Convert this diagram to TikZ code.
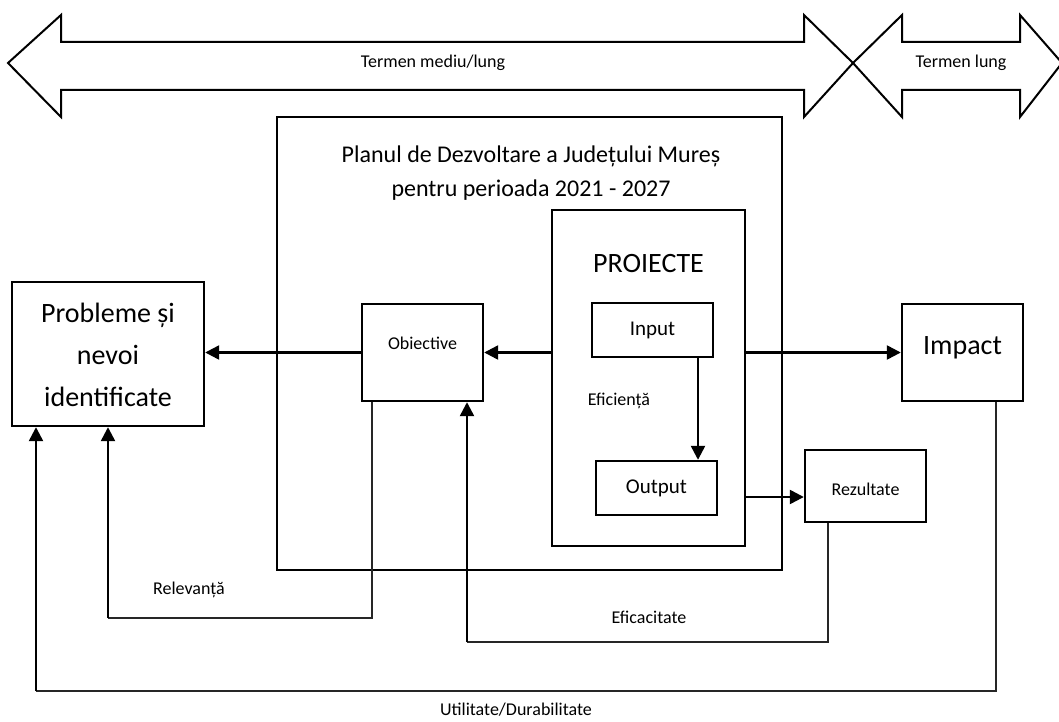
\documentclass[tikz,border=0pt]{standalone}
\usepackage{fontspec}
\setmainfont{Carlito}
\usetikzlibrary{arrows.meta}
\begin{document}
\begin{tikzpicture}[x=1pt,y=-1pt,
  box/.style={draw, line width=2.4pt, inner sep=0pt},
  thinl/.style={line width=1.1pt, draw=black!85},
  arr/.style={line width=2.4pt, -{Triangle[length=14pt,width=14pt]}},
  fs/.style={font=\fontsize{18}{22}\selectfont},
  fm/.style={font=\fontsize{21}{25}\selectfont},
  fp/.style={font=\fontsize{24}{34}\selectfont, align=center},
  fl/.style={font=\fontsize{28}{42}\selectfont, align=center},
  band/.style={draw, line width=2pt, line join=miter}]
\useasboundingbox (0,0) rectangle (1059,722);

% top double arrows
\draw[band] (8,63) -- (61,15) -- (61,42) -- (804,42) -- (804,15) -- (853,63)
  -- (804,117) -- (804,90) -- (61,90) -- (61,117) -- cycle;
\draw[band] (853,63) -- (902,15) -- (902,42) -- (1020,42) -- (1020,15) -- (1062,63)
  -- (1020,117) -- (1020,90) -- (902,90) -- (902,117) -- cycle;
\node[fs] (tml) at (433,63) {Termen mediu/lung};
\node[fs] (tl) at (961,63) {Termen lung};

% plan box
\node[box, minimum width=505pt, minimum height=453pt] (plan) at (529.5,343.5) {};
\node[fp] (plantxt) at (531,173) {Planul de Dezvoltare a Județului Mureș\\pentru perioada 2021 - 2027};

% projects box
\node[box, minimum width=193pt, minimum height=336pt] (proj) at (648.5,378) {};
\node[fl] (projtxt) at (648.5,264) {PROIECTE};
\node[box, fm, minimum width=121pt, minimum height=54pt] (input) at (652.5,330) {Input};
\node[box, fm, minimum width=121pt, minimum height=54pt] (output) at (656.5,488) {Output};
\node[fs] (efic) at (619,401) {Eficiență};

% other boxes
\node[box, minimum width=192pt, minimum height=144pt] (probl) at (108,354) {};
\node[fl] (probltxt) at (108,355) {Probleme și\\nevoi\\identificate};
\node[box, minimum width=121pt, minimum height=97pt] (obj) at (422.5,352.5) {};
\node[fs] (objtxt) at (422.5,343) {Obiective};
\node[box, minimum width=121pt, minimum height=97pt] (impact) at (962.5,352.5) {};
\node[fl] (impacttxt) at (962.5,348) {Impact};
\node[box, minimum width=121pt, minimum height=72pt] (rez) at (865.5,486) {};
\node[fs] (reztxt) at (865.5,489) {Rezultate};

% main arrows
\draw[arr] (proj.west |- obj.east) -- (obj.east);
\draw[arr] (obj.west) -- (obj.west -| probl.east);
\draw[arr] (proj.east |- impact.west) -- (impact.west);
\draw[arr] ([xshift=45.5pt]input.south) -- ([xshift=45.5pt]input.south |- output.north);
\draw[arr] ([yshift=-11pt]rez.west -| proj.east) -- ([yshift=-11pt]rez.west);

% feedback loops
\coordinate (c1) at (108,618);
\coordinate (c2) at (467,642);
\coordinate (c3) at (36,691);
\draw[thinl] ([xshift=-50.5pt]obj.south) |- (c1);
\draw[arr] (c1) -- (probl.south);
\draw[thinl] ([xshift=-37.5pt]rez.south) |- (c2);
\draw[arr] (c2) -- ([xshift=44.5pt]obj.south);
\draw[thinl] ([xshift=33.5pt]impact.south) |- (c3);
\draw[arr] (c3) -- ([xshift=-72pt]probl.south);

\node[fs] (relev) at (189,590) {Relevanță};
\node[fs] (eficac) at (649,617) {Eficacitate};
\node[fs] (util) at (516,710) {Utilitate/Durabilitate};
\end{tikzpicture}
\end{document}
